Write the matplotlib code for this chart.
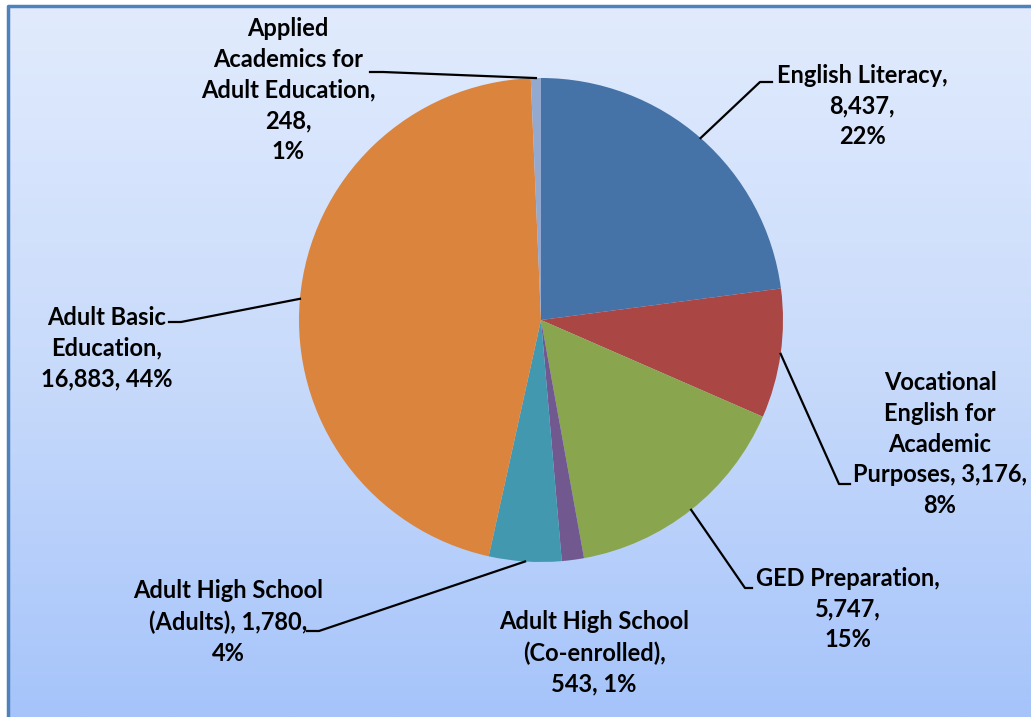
import matplotlib.pyplot as plt
import numpy as np
from matplotlib.colors import LinearSegmentedColormap

# Data (clockwise from the top)
categories = ["English Literacy",
              "Vocational\nEnglish for\nAcademic\nPurposes",
              "GED Preparation",
              "Adult High School\n(Co-enrolled)",
              "Adult High School\n(Adults)",
              "Adult Basic\nEducation",
              "Applied\nAcademics for\nAdult Education"]
values = [8437, 3176, 5747, 543, 1780, 16883, 248]
percents = [22, 8, 15, 1, 4, 44, 1]

# Separators between name / value / percent, as wrapped in the original
seps = [(",\n", ",\n"), (", ", ",\n"), (",\n", ",\n"), (",\n", ", "),
        (", ", ",\n"), (",\n", ", "), (",\n", ",\n")]

colors = ["#4572A7", "#AA4643", "#89A54E", "#71588F", "#4198AF", "#DB843D", "#93A9CF"]

# Figure in pixel units
W, H = 1031, 717
fig = plt.figure(figsize=(W / 100, H / 100), dpi=100, facecolor="white")
ax = fig.add_axes([0, 0, 1, 1])

def py(y):
    # flip image-style y to data y
    return H - y

# Gradient background inside the chart border
bg = LinearSegmentedColormap.from_list("bg", ["#A6C4FA", "#C9DBFB", "#E1EBFD"])
grad = np.linspace(0, 1, 256).reshape(-1, 1)
ax.imshow(grad, extent=(8, W, 0, py(6)), origin="lower", cmap=bg,
          aspect="auto", zorder=0)
ax.plot([8, 8, W], [0, py(6), py(6)], color="#4F81BD", lw=2.5, zorder=1,
        solid_capstyle="butt")

# Pie
cx, cy, r = 541, 320, 242
wedges, _ = ax.pie(values, colors=colors, startangle=90, counterclock=False,
                   center=(cx, py(cy)), radius=r, frame=True,
                   wedgeprops=dict(linewidth=0, zorder=2))

# Label layout: text centre and the end of the leader line next to the text
text_pos = [(862, 106), (940, 444), (848, 609), (594, 653),
            (228, 622), (107, 348), (288, 90)]
leader = [(760, 82, 772), (839, 484, 850), (745, 588, 752), None,
          (319, 631, 307), (181, 322, 169), (383, 72, 370)]

for i, w in enumerate(wedges):
    s1, s2 = seps[i]
    txt = f"{categories[i]}{s1}{values[i]:,}{s2}{percents[i]}%"
    tx, ty = text_pos[i]
    ax.text(tx, py(ty), txt, ha="center", va="center", multialignment="center",
            fontsize=17, fontweight="bold", family="Lato", color="black",
            linespacing=1.42, zorder=4)
    if leader[i] is not None:
        ang = np.deg2rad((w.theta1 + w.theta2) / 2)
        ex, ey = cx + r * np.cos(ang), py(cy) + r * np.sin(ang)
        lx, ly, sx = leader[i]
        ax.plot([ex, lx, sx], [ey, py(ly), py(ly)], color="black", lw=1.6,
                zorder=3)

ax.set_xlim(0, W)
ax.set_ylim(0, H)
ax.axis("off")

fig.savefig("out.png", dpi=100, facecolor="white")
